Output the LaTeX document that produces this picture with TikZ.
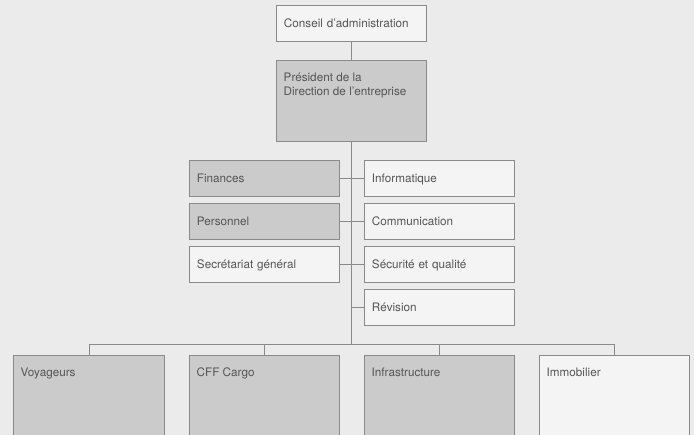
\documentclass[tikz,border=0pt]{standalone}
\usepackage{fontspec}
\usetikzlibrary{calc}
\setmainfont{TeX Gyre Heros}
\definecolor{bgc}{HTML}{EBEBEB}
\definecolor{whitebox}{HTML}{F4F4F4}
\definecolor{graybox}{HTML}{CBCBCB}
\definecolor{linec}{HTML}{8A8A8A}
\definecolor{txtc}{HTML}{555555}
\tikzset{
  box/.style={draw=linec, line width=0.9pt, anchor=north west, minimum width=150pt,
    minimum height=36pt, inner xsep=7.5pt, inner ysep=0pt, text width=135pt, align=left,
    text height=9pt, text depth=0.5pt, text=txtc,
    font=\fontsize{11.7}{14}\selectfont},
  wbox/.style={box, fill=whitebox},
  gbox/.style={box, fill=graybox},
  lbl/.style={anchor=north west, inner sep=0pt, xshift=7.5pt, yshift=-13pt, align=left,
    text=txtc, font=\fontsize{11.7}{14}\selectfont},
  conn/.style={draw=linec, line width=0.9pt}
}
\begin{document}
\begin{tikzpicture}[x=1pt,y=-1pt]
\useasboundingbox (0,0) rectangle (694,435);
\clip (0,0) rectangle (694,435);
\fill[bgc] (0,0) rectangle (694,435);
% top
\node[wbox] (conseil) at (276,5) {Conseil d'administration};
\node[gbox, minimum height=81pt, label={[lbl,name=pres-t]north west:{Président de la\\Direction de l'entreprise}}] (pres) at (276,60) {};
% staff
\node[gbox] (fin) at (189,160) {Finances};
\node[wbox] (info) at (364,160) {Informatique};
\node[gbox] (pers) at (189,203) {Personnel};
\node[wbox] (comm) at (364,203) {Communication};
\node[wbox] (sec) at (189,246) {Secrétariat général};
\node[wbox] (secu) at (364,246) {Sécurité et qualité};
\node[wbox] (rev) at (364,289) {Révision};
% divisions
\node[gbox, minimum width=151pt, minimum height=95pt, label={[lbl,name=voy-t]north west:Voyageurs}] (voy) at (13,355) {};
\node[gbox, minimum height=95pt, label={[lbl,name=cargo-t]north west:CFF Cargo}] (cargo) at (189,355) {};
\node[gbox, minimum height=95pt, label={[lbl,name=infra-t]north west:Infrastructure}] (infra) at (364,355) {};
\node[wbox, minimum height=95pt, label={[lbl,name=immo-t]north west:Immobilier}] (immo) at (539,355) {};
% connectors
\coordinate (bus) at ($(pres.south)+(0,202.5)$);
\draw[conn] (conseil.south) -- (pres.north);
\draw[conn] (pres.south) -- (bus);
\draw[conn] (fin.east) -- (info.west);
\draw[conn] (pers.east) -- (comm.west);
\draw[conn] (sec.east) -- (secu.west);
\draw[conn] (rev.west) -- (rev.west -| pres.south);
\draw[conn] (voy.north) -- (voy.north |- bus) -- (immo.north |- bus) -- (immo.north);
\draw[conn] (cargo.north) -- (cargo.north |- bus);
\draw[conn] (infra.north) -- (infra.north |- bus);
\end{tikzpicture}
\end{document}
